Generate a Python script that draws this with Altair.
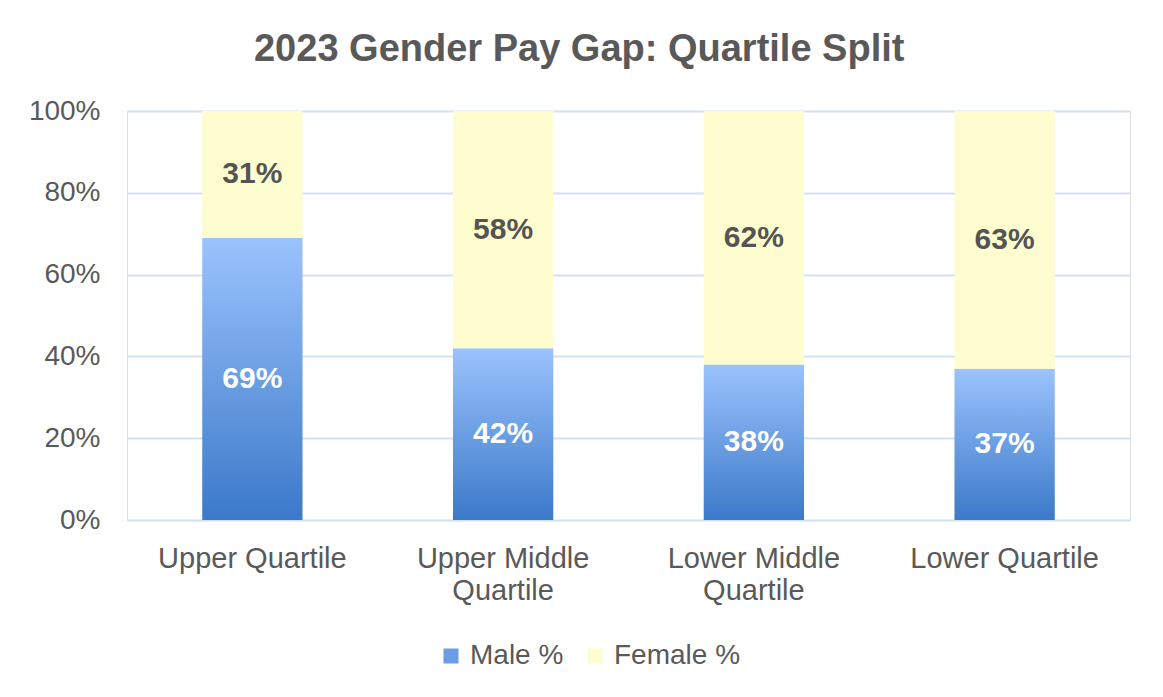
import altair as alt
import pandas as pd

categories = ["Upper Quartile", "Upper Middle Quartile", "Lower Middle Quartile", "Lower Quartile"]
male_pct = [69, 42, 38, 37]
female_pct = [31, 58, 62, 63]
series_names = ["Male %", "Female %"]
y_ticks = [0, 20, 40, 60, 80, 100]

FONT = "Liberation Sans"
GREY = "#595959"
YELLOW = "#fefdcf"
BLUE_MID = "#6b9de6"

df = pd.DataFrame({"category": categories, "male": male_pct, "female": female_pct})

base = alt.Chart(df).transform_calculate(
    total="datum.male + datum.female",
    male_mid="datum.male / 2",
    female_mid="datum.male + datum.female / 2",
    male_label="datum.male + '%'",
    female_label="datum.female + '%'",
    female_series="'Female %'",
)

x_enc = alt.X(
    "category:N",
    sort=categories,
    scale=alt.Scale(paddingInner=0.6, paddingOuter=0.3),
    axis=alt.Axis(
        title=None, labelAngle=0, domain=False, ticks=False, grid=False,
        labelFontSize=29, labelFont=FONT, labelColor=GREY, labelPadding=24,
        labelLineHeight=32, labelBaseline="top", labelLimit=0,
        labelExpr="indexof(datum.label, 'Middle') >= 0 ? [slice(datum.label, 0, 12), slice(datum.label, 13)] : datum.label",
    ),
)

y_scale = alt.Scale(domain=[0, 100], nice=False)

male_bars = base.mark_bar(
    fill=alt.Gradient(
        gradient="linear",
        stops=[alt.GradientStop(color="#9bc3fd", offset=0),
               alt.GradientStop(color="#3b79c9", offset=1)],
        x1=0, x2=0, y1=0, y2=1,
    )
).encode(
    x=x_enc,
    y=alt.Y("male:Q", scale=y_scale, axis=alt.Axis(
        title=None, values=y_ticks, labelExpr="datum.value + '%'",
        domain=False, ticks=False, tickSize=0, grid=True, gridColor="#d3e2f3", gridWidth=2,
        labelFontSize=28, labelFont=FONT, labelColor=GREY, labelPadding=27,
    )),
    y2=alt.Y2(datum=0),
)

female_bars = base.mark_bar().encode(
    x=x_enc,
    y=alt.Y("total:Q", scale=y_scale),
    y2="male:Q",
    color=alt.Color(
        "female_series:N",
        scale=alt.Scale(domain=series_names, range=[BLUE_MID, YELLOW]),
        legend=alt.Legend(
            title=None, orient="none", direction="horizontal",
            legendX=310, legendY=531,
            symbolType="square", symbolSize=225, symbolStrokeWidth=0,
            labelFontSize=28, labelFont=FONT, labelColor=GREY,
            columnPadding=17, labelOffset=5,
        ),
    ),
)

male_text = base.mark_text(
    font=FONT, fontSize=30, fontWeight="bold", color="white", baseline="middle"
).encode(x=x_enc, y=alt.Y("male_mid:Q", scale=y_scale), text="male_label:N")

female_text = base.mark_text(
    font=FONT, fontSize=30, fontWeight="bold", color="#545454", baseline="middle"
).encode(x=x_enc, y=alt.Y("female_mid:Q", scale=y_scale), text="female_label:N")

chart = alt.layer(male_bars, female_bars, male_text, female_text).properties(
    width=1003,
    height=409,
    title=alt.TitleParams(
        "2023 Gender Pay Gap: Quartile Split",
        font=FONT, fontSize=38, fontWeight="bold", color=GREY,
        anchor="middle", frame="bounds", offset=28,
    ),
    padding={"left": 20, "top": 23, "right": 5, "bottom": 5},
).configure_view(stroke=None).configure(background="white")

chart.save("out.html", embed_options={"renderer": "svg", "actions": False})
